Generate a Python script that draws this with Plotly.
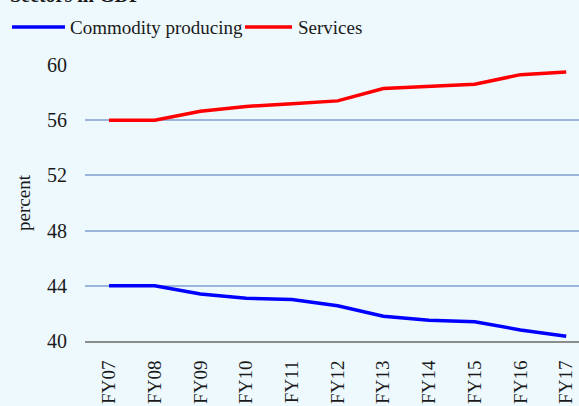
import plotly.graph_objects as go

categories = ["FY07", "FY08", "FY09", "FY10", "FY11", "FY12", "FY13", "FY14", "FY15", "FY16", "FY17"]
commodity = [44.0, 44.0, 43.4, 43.1, 43.0, 42.55, 41.8, 41.5, 41.4, 40.8, 40.35]
services = [56.0, 56.0, 56.65, 57.0, 57.2, 57.4, 58.3, 58.45, 58.6, 59.3, 59.5]
y_ticks = [40, 44, 48, 52, 56, 60]
series_names = ["Commodity producing", "Services"]
series_colors = ["#0000FF", "#FF0000"]

BG = "#EEF9FE"
FONT = "Liberation Serif"
TXT = "#1a1a1a"
FS = 19

L, T, W, H = 85, 65, 579, 406
PW, PH = W - L, 341 - T


def px(x):
    return (x - L) / PW


def py(y):
    return (T + PH - y) / PH


fig = go.Figure()
for vals, name, col in zip([commodity, services], series_names, series_colors):
    fig.add_trace(go.Scatter(x=categories, y=vals, mode="lines", name=name,
                             line=dict(color=col, width=3.5), showlegend=False))

fig.update_layout(
    width=W, height=H,
    margin=dict(l=L, r=0, t=T, b=H - T - PH, autoexpand=False),
    paper_bgcolor=BG, plot_bgcolor=BG,
    font=dict(family=FONT, size=FS, color=TXT),
    showlegend=False,
    xaxis=dict(type="category", range=[-0.525, 10.28], tickangle=-90,
               showgrid=False, showline=True, linecolor="#8C8C8C", linewidth=2,
               ticks="", ticklabelstandoff=10, tickfont=dict(size=FS, family=FONT)),
    yaxis=dict(range=[40, 60], tickvals=y_ticks, showgrid=True, gridcolor="#9BB6D8",
               gridwidth=1.5, zeroline=False, showline=False, ticks="",
               ticklabelstandoff=17, tickfont=dict(size=20, family=FONT),
               title=dict(text="percent", font=dict(size=FS, family=FONT), standoff=11)),
)

# legend drawn as line samples + labels
legend_items = [(12, 65, 68), (245, 292, 296)]
for (x0, x1, xt), name, col in zip(legend_items, series_names, series_colors):
    fig.add_shape(type="line", xref="paper", yref="paper", x0=px(x0), x1=px(x1),
                  y0=py(27), y1=py(27), line=dict(color=col, width=3.5))
    fig.add_annotation(text=name, xref="paper", yref="paper", x=px(xt), xanchor="left",
                       y=py(27), yanchor="middle", showarrow=False,
                       font=dict(size=FS, family=FONT, color=TXT))

fig.add_annotation(text="<b>Sectors in GDP</b>", xref="paper", yref="paper",
                   x=px(8), xanchor="left", y=py(8), yanchor="bottom",
                   showarrow=False, font=dict(size=20, family=FONT, color=TXT))

fig.write_html("out.html")
